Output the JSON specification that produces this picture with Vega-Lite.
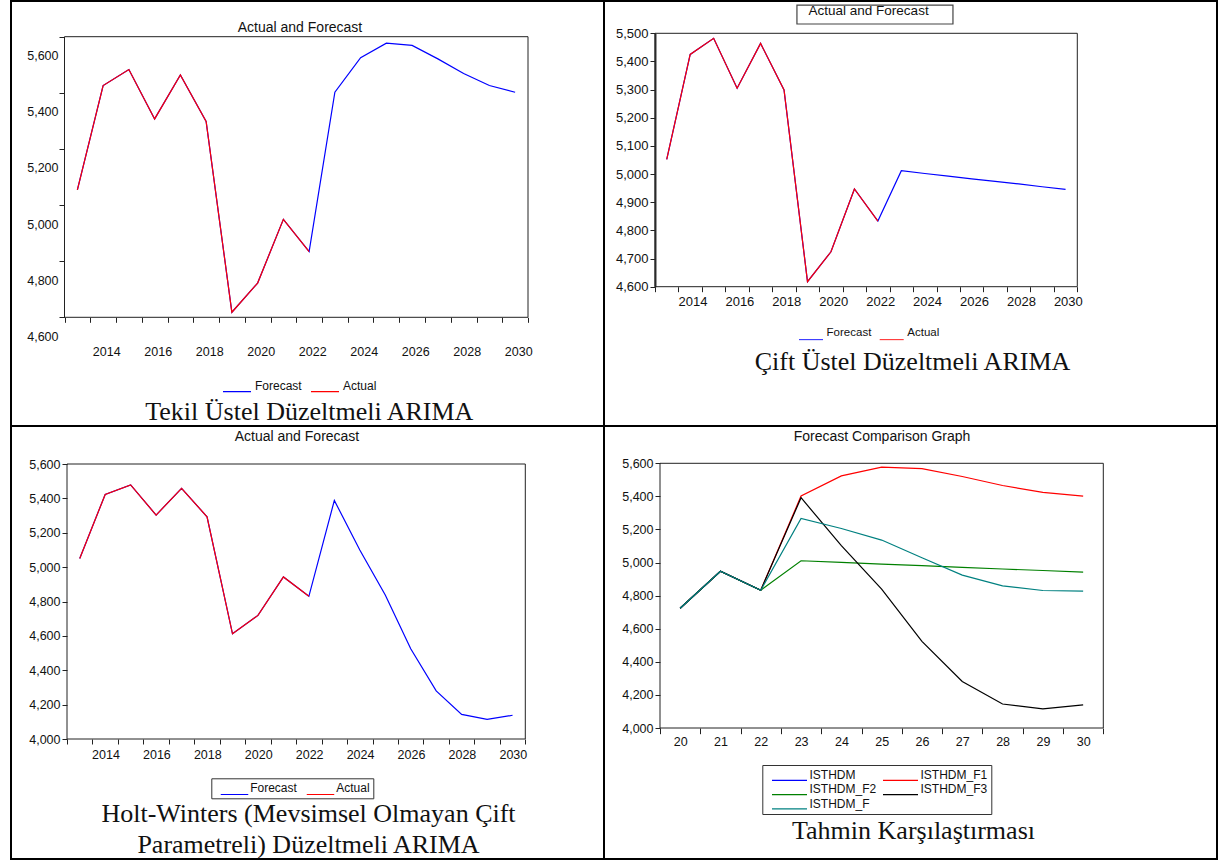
{
  "$schema": "https://vega.github.io/schema/vega-lite/v6.json",
  "background": "white",
  "padding": {"left": 10, "top": 0, "right": 0, "bottom": 0},
  "columns": 2,
  "spacing": 0,
  "bounds": "flush",
  "resolve": {"scale": {"color": "independent"}, "legend": {"color": "independent"}},
  "config": {
    "font": "Liberation Sans",
    "view": {"stroke": "#000", "strokeWidth": 2},
    "axis": {"grid": false, "domain": false, "tickColor": "#222", "labelColor": "#111", "labelFont": "Liberation Sans", "labelFontSize": 12.5, "labelFlush": false, "labelOverlap": false, "tickCount": 60},
    "legend": {"labelFont": "Liberation Sans", "labelColor": "#111", "title": null},
    "title": {"font": "Liberation Sans", "fontWeight": "normal", "color": "#111", "fontSize": 14}
  },
  "datasets": {
    "p1": [
      {"series": "Forecast", "year": 2013, "value": 5054},
      {"series": "Forecast", "year": 2014, "value": 5426},
      {"series": "Forecast", "year": 2015, "value": 5483},
      {"series": "Forecast", "year": 2016, "value": 5307},
      {"series": "Forecast", "year": 2017, "value": 5464},
      {"series": "Forecast", "year": 2018, "value": 5298},
      {"series": "Forecast", "year": 2019, "value": 4618},
      {"series": "Forecast", "year": 2020, "value": 4722},
      {"series": "Forecast", "year": 2021, "value": 4949},
      {"series": "Forecast", "year": 2022, "value": 4834},
      {"series": "Forecast", "year": 2023, "value": 5402},
      {"series": "Forecast", "year": 2024, "value": 5525},
      {"series": "Forecast", "year": 2025, "value": 5577},
      {"series": "Forecast", "year": 2026, "value": 5569},
      {"series": "Forecast", "year": 2027, "value": 5521},
      {"series": "Forecast", "year": 2028, "value": 5469},
      {"series": "Forecast", "year": 2029, "value": 5426},
      {"series": "Forecast", "year": 2030, "value": 5402},
      {"series": "Actual", "year": 2013, "value": 5054},
      {"series": "Actual", "year": 2014, "value": 5426},
      {"series": "Actual", "year": 2015, "value": 5483},
      {"series": "Actual", "year": 2016, "value": 5307},
      {"series": "Actual", "year": 2017, "value": 5464},
      {"series": "Actual", "year": 2018, "value": 5298},
      {"series": "Actual", "year": 2019, "value": 4618},
      {"series": "Actual", "year": 2020, "value": 4722},
      {"series": "Actual", "year": 2021, "value": 4949},
      {"series": "Actual", "year": 2022, "value": 4834}
    ],
    "p2": [
      {"series": "Forecast", "year": 2013, "value": 5052},
      {"series": "Forecast", "year": 2014, "value": 5425},
      {"series": "Forecast", "year": 2015, "value": 5482},
      {"series": "Forecast", "year": 2016, "value": 5305},
      {"series": "Forecast", "year": 2017, "value": 5464},
      {"series": "Forecast", "year": 2018, "value": 5299},
      {"series": "Forecast", "year": 2019, "value": 4618},
      {"series": "Forecast", "year": 2020, "value": 4724},
      {"series": "Forecast", "year": 2021, "value": 4947},
      {"series": "Forecast", "year": 2022, "value": 4833},
      {"series": "Forecast", "year": 2023, "value": 5012},
      {"series": "Forecast", "year": 2024, "value": 5002},
      {"series": "Forecast", "year": 2025, "value": 4993},
      {"series": "Forecast", "year": 2026, "value": 4983},
      {"series": "Forecast", "year": 2027, "value": 4974},
      {"series": "Forecast", "year": 2028, "value": 4965},
      {"series": "Forecast", "year": 2029, "value": 4955},
      {"series": "Forecast", "year": 2030, "value": 4946},
      {"series": "Actual", "year": 2013, "value": 5052},
      {"series": "Actual", "year": 2014, "value": 5425},
      {"series": "Actual", "year": 2015, "value": 5482},
      {"series": "Actual", "year": 2016, "value": 5305},
      {"series": "Actual", "year": 2017, "value": 5464},
      {"series": "Actual", "year": 2018, "value": 5299},
      {"series": "Actual", "year": 2019, "value": 4618},
      {"series": "Actual", "year": 2020, "value": 4724},
      {"series": "Actual", "year": 2021, "value": 4947},
      {"series": "Actual", "year": 2022, "value": 4833}
    ],
    "p3": [
      {"series": "Forecast", "year": 2013, "value": 5050},
      {"series": "Forecast", "year": 2014, "value": 5423},
      {"series": "Forecast", "year": 2015, "value": 5478},
      {"series": "Forecast", "year": 2016, "value": 5303},
      {"series": "Forecast", "year": 2017, "value": 5458},
      {"series": "Forecast", "year": 2018, "value": 5293},
      {"series": "Forecast", "year": 2019, "value": 4612},
      {"series": "Forecast", "year": 2020, "value": 4719},
      {"series": "Forecast", "year": 2021, "value": 4943},
      {"series": "Forecast", "year": 2022, "value": 4830},
      {"series": "Forecast", "year": 2023, "value": 5388},
      {"series": "Forecast", "year": 2024, "value": 5100},
      {"series": "Forecast", "year": 2025, "value": 4838},
      {"series": "Forecast", "year": 2026, "value": 4525},
      {"series": "Forecast", "year": 2027, "value": 4280},
      {"series": "Forecast", "year": 2028, "value": 4143},
      {"series": "Forecast", "year": 2029, "value": 4114},
      {"series": "Forecast", "year": 2030, "value": 4138},
      {"series": "Actual", "year": 2013, "value": 5050},
      {"series": "Actual", "year": 2014, "value": 5423},
      {"series": "Actual", "year": 2015, "value": 5478},
      {"series": "Actual", "year": 2016, "value": 5303},
      {"series": "Actual", "year": 2017, "value": 5458},
      {"series": "Actual", "year": 2018, "value": 5293},
      {"series": "Actual", "year": 2019, "value": 4612},
      {"series": "Actual", "year": 2020, "value": 4719},
      {"series": "Actual", "year": 2021, "value": 4943},
      {"series": "Actual", "year": 2022, "value": 4830}
    ],
    "p4": [
      {"series": "ISTHDM", "period": 20, "value": 4724},
      {"series": "ISTHDM", "period": 21, "value": 4947},
      {"series": "ISTHDM", "period": 22, "value": 4833},
      {"series": "ISTHDM_F1", "period": 20, "value": 4724},
      {"series": "ISTHDM_F1", "period": 21, "value": 4947},
      {"series": "ISTHDM_F1", "period": 22, "value": 4833},
      {"series": "ISTHDM_F1", "period": 23, "value": 5402},
      {"series": "ISTHDM_F1", "period": 24, "value": 5524},
      {"series": "ISTHDM_F1", "period": 25, "value": 5577},
      {"series": "ISTHDM_F1", "period": 26, "value": 5568},
      {"series": "ISTHDM_F1", "period": 27, "value": 5520},
      {"series": "ISTHDM_F1", "period": 28, "value": 5466},
      {"series": "ISTHDM_F1", "period": 29, "value": 5424},
      {"series": "ISTHDM_F1", "period": 30, "value": 5402},
      {"series": "ISTHDM_F2", "period": 20, "value": 4724},
      {"series": "ISTHDM_F2", "period": 21, "value": 4947},
      {"series": "ISTHDM_F2", "period": 22, "value": 4833},
      {"series": "ISTHDM_F2", "period": 23, "value": 5011},
      {"series": "ISTHDM_F2", "period": 24, "value": 5001},
      {"series": "ISTHDM_F2", "period": 25, "value": 4991},
      {"series": "ISTHDM_F2", "period": 26, "value": 4981},
      {"series": "ISTHDM_F2", "period": 27, "value": 4971},
      {"series": "ISTHDM_F2", "period": 28, "value": 4961},
      {"series": "ISTHDM_F2", "period": 29, "value": 4952},
      {"series": "ISTHDM_F2", "period": 30, "value": 4942},
      {"series": "ISTHDM_F3", "period": 20, "value": 4724},
      {"series": "ISTHDM_F3", "period": 21, "value": 4947},
      {"series": "ISTHDM_F3", "period": 22, "value": 4833},
      {"series": "ISTHDM_F3", "period": 23, "value": 5392},
      {"series": "ISTHDM_F3", "period": 24, "value": 5102},
      {"series": "ISTHDM_F3", "period": 25, "value": 4839},
      {"series": "ISTHDM_F3", "period": 26, "value": 4524},
      {"series": "ISTHDM_F3", "period": 27, "value": 4281},
      {"series": "ISTHDM_F3", "period": 28, "value": 4145},
      {"series": "ISTHDM_F3", "period": 29, "value": 4116},
      {"series": "ISTHDM_F3", "period": 30, "value": 4140},
      {"series": "ISTHDM_F", "period": 20, "value": 4724},
      {"series": "ISTHDM_F", "period": 21, "value": 4947},
      {"series": "ISTHDM_F", "period": 22, "value": 4833},
      {"series": "ISTHDM_F", "period": 23, "value": 5267},
      {"series": "ISTHDM_F", "period": 24, "value": 5206},
      {"series": "ISTHDM_F", "period": 25, "value": 5136},
      {"series": "ISTHDM_F", "period": 26, "value": 5029},
      {"series": "ISTHDM_F", "period": 27, "value": 4924},
      {"series": "ISTHDM_F", "period": 28, "value": 4859},
      {"series": "ISTHDM_F", "period": 29, "value": 4831},
      {"series": "ISTHDM_F", "period": 30, "value": 4827}
    ]
  },
  "concat": [
    {
      "width": 593, "height": 425,
      "data": {"name": "p1"},
      "title": {"text": "Actual and Forecast", "anchor": "middle", "frame": "group", "baseline": "alphabetic", "offset": -45, "dx": -7.5},
      "layer": [
        {
          "data": {"values": [{}]},
          "mark": {"type": "rect", "fill": "transparent", "stroke": "#222", "strokeWidth": 1},
          "encoding": {"x": {"datum": 2012.5}, "x2": {"datum": 2030.5}, "y": {"datum": 4600}, "y2": {"datum": 5600}}
        },
        {
          "mark": {"type": "line", "strokeWidth": 1.2},
          "encoding": {
            "x": {"field": "year", "type": "quantitative",
              "scale": {"domain": [2012.5, 2030.5], "range": [53.5, 517], "nice": false, "zero": false},
              "axis": {"orient": "bottom", "offset": -108.7, "tickCount": 60, "values": [2012.5, 2013.5, 2014.5, 2015.5, 2016.5, 2017.5, 2018.5, 2019.5, 2020.5, 2021.5, 2022.5, 2023.5, 2024.5, 2025.5, 2026.5, 2027.5, 2028.5, 2029.5, 2030.5],
                "labelExpr": "datum.value % 2 == 1.5 ? format(datum.value + 0.5, 'd') : ''", "labelOffset": 16, "tickSize": 5, "labelPadding": 28.7, "labelBaseline": "middle",
                "title": "Tekil Üstel Düzeltmeli ARIMA", "titleFont": "Liberation Serif", "titleFontSize": 26, "titleFontWeight": "normal", "titleColor": "#111", "titleX": 297.8, "titleY": 101.7, "titleAlign": "center", "titleBaseline": "alphabetic"}},
            "y": {"field": "value", "type": "quantitative",
              "scale": {"domain": [4600, 5600], "range": [316.3, 35.7], "nice": false, "zero": false},
              "axis": {"orient": "left", "offset": -53.5, "tickCount": 60, "values": [4600, 4800, 5000, 5200, 5400, 5600], "format": ",d", "labelOffset": 19, "labelPadding": 1, "tickSize": 5.5, "title": null}},
            "color": {"field": "series", "type": "nominal",
              "scale": {"domain": ["Forecast", "Actual"], "range": ["#0000ff", "#ff0000"]},
              "legend": {"orient": "none", "legendX": 211, "legendY": 378, "direction": "horizontal", "title": null, "symbolType": "M-1,0.4H1", "symbolSize": 784, "symbolStrokeWidth": 1.2, "labelFontSize": 12, "labelOffset": 3, "columnPadding": 8, "padding": 0, "clipHeight": 14, "labelBaseline": "middle"}}
          }
        }
      ]
    },
    {
      "width": 613, "height": 425,
      "data": {"name": "p2"},
      "title": {"text": "Actual and Forecast", "anchor": "middle", "frame": "group", "baseline": "alphabetic", "offset": -27, "dx": -41.9, "fontSize": 13.5},
      "layer": [
        {
          "data": {"values": [{}]},
          "mark": {"type": "rect", "fill": "transparent", "stroke": "#222", "strokeWidth": 1},
          "encoding": {"x": {"datum": 2012.5}, "x2": {"datum": 2030.5}, "y": {"datum": 4600}, "y2": {"datum": 5500}}
        },
        {
          "data": {"values": [{}]},
          "mark": {"type": "rect", "fill": "transparent", "stroke": "#444", "strokeWidth": 1.2},
          "encoding": {"x": {"datum": 2018.55}, "x2": {"datum": 2025.2}, "y": {"datum": 5533}, "y2": {"datum": 5600}}
        },
        {
          "mark": {"type": "line", "strokeWidth": 1.2},
          "encoding": {
            "x": {"field": "year", "type": "quantitative",
              "scale": {"domain": [2012.5, 2030.5], "range": [51, 473.3], "nice": false, "zero": false},
              "axis": {"orient": "bottom", "offset": -139.3, "tickCount": 60, "values": [2012.5, 2013.5, 2014.5, 2015.5, 2016.5, 2017.5, 2018.5, 2019.5, 2020.5, 2021.5, 2022.5, 2023.5, 2024.5, 2025.5, 2026.5, 2027.5, 2028.5, 2029.5, 2030.5],
                "labelExpr": "datum.value % 2 == 1.5 ? format(datum.value + 0.5, 'd') : ''", "labelOffset": 14, "tickSize": 5, "labelPadding": 10, "labelBaseline": "middle", "labelFontSize": 13,
                "title": "Çift Üstel Düzeltmeli ARIMA", "titleFont": "Liberation Serif", "titleFontSize": 26, "titleFontWeight": "normal", "titleColor": "#111", "titleX": 308, "titleY": 82.6, "titleAlign": "center", "titleBaseline": "alphabetic"}},
            "y": {"field": "value", "type": "quantitative",
              "scale": {"domain": [4600, 5500], "range": [285.7, 32.3], "nice": false, "zero": false},
              "axis": {"orient": "left", "offset": -51, "tickCount": 60, "values": [4600, 4700, 4800, 4900, 5000, 5100, 5200, 5300, 5400, 5500], "format": ",d", "labelPadding": 2, "tickSize": 5, "labelFontSize": 13, "title": null, "domain": true, "domainColor": "#333", "domainWidth": 2}},
            "color": {"field": "series", "type": "nominal",
              "scale": {"domain": ["Forecast", "Actual"], "range": ["#0000ff", "#ff0000"]},
              "legend": {"orient": "none", "legendX": 194, "legendY": 325.3, "direction": "horizontal", "title": null, "symbolType": "M-1,0.55H1", "symbolSize": 576, "symbolStrokeWidth": 1.2, "labelFontSize": 11.5, "labelOffset": 2.6, "columnPadding": 6.7, "padding": 0, "clipHeight": 14, "labelBaseline": "middle"}}
          }
        }
      ]
    },
    {
      "width": 593, "height": 433,
      "data": {"name": "p3"},
      "title": {"text": "Actual and Forecast", "anchor": "middle", "frame": "group", "baseline": "alphabetic", "offset": -28.5, "dx": -10.5},
      "layer": [
        {
          "data": {"values": [{}]},
          "mark": {"type": "rect", "fill": "transparent", "stroke": "#222", "strokeWidth": 1},
          "encoding": {"x": {"datum": 2012.5}, "x2": {"datum": 2030.5}, "y": {"datum": 4000}, "y2": {"datum": 5600}}
        },
        {
          "mark": {"type": "line", "strokeWidth": 1.2},
          "encoding": {
            "x": {"field": "year", "type": "quantitative",
              "scale": {"domain": [2012.5, 2030.5], "range": [56, 514.3], "nice": false, "zero": false},
              "axis": {"orient": "bottom", "offset": -120, "tickCount": 60, "values": [2012.5, 2013.5, 2014.5, 2015.5, 2016.5, 2017.5, 2018.5, 2019.5, 2020.5, 2021.5, 2022.5, 2023.5, 2024.5, 2025.5, 2026.5, 2027.5, 2028.5, 2029.5, 2030.5],
                "labelExpr": "datum.value % 2 == 1.5 ? format(datum.value + 0.5, 'd') : ''", "labelOffset": 13, "tickSize": 5, "labelPadding": 10, "labelBaseline": "middle",
                "title": ["Holt-Winters (Mevsimsel Olmayan Çift", "Parametreli) Düzeltmeli ARIMA"], "titleFont": "Liberation Serif", "titleFontSize": 26, "titleFontWeight": "normal", "titleColor": "#111", "titleX": 297, "titleY": 82.7, "titleAlign": "center", "titleBaseline": "alphabetic", "titleLineHeight": 30.6}},
            "y": {"field": "value", "type": "quantitative",
              "scale": {"domain": [4000, 5600], "range": [313, 38], "nice": false, "zero": false},
              "axis": {"orient": "left", "offset": -56, "tickCount": 60, "values": [4000, 4200, 4400, 4600, 4800, 5000, 5200, 5400, 5600], "format": ",d", "labelPadding": 2, "tickSize": 5, "title": null}},
            "color": {"field": "series", "type": "nominal",
              "scale": {"domain": ["Forecast", "Actual"], "range": ["#0000ff", "#ff0000"]},
              "legend": {"orient": "none", "legendX": 200.3, "legendY": 352.3, "direction": "horizontal", "title": null, "symbolType": "M-1,0.45H1", "symbolSize": 756, "symbolOffset": 5.7, "symbolStrokeWidth": 1.2, "labelFontSize": 12, "labelOffset": 1.2, "columnPadding": 3, "padding": 3, "clipHeight": 14, "strokeColor": "#333", "labelBaseline": "middle"}}
          }
        }
      ]
    },
    {
      "width": 613, "height": 433,
      "data": {"name": "p4"},
      "title": {"text": "Forecast Comparison Graph", "anchor": "middle", "frame": "group", "baseline": "alphabetic", "offset": -28.5, "dx": -28.5},
      "layer": [
        {
          "data": {"values": [{}]},
          "mark": {"type": "rect", "fill": "transparent", "stroke": "#222", "strokeWidth": 1},
          "encoding": {"x": {"datum": 19.5}, "x2": {"datum": 30.5}, "y": {"datum": 4000}, "y2": {"datum": 5600}}
        },
        {
          "mark": {"type": "line", "strokeWidth": 1.2},
          "encoding": {
            "x": {"field": "period", "type": "quantitative",
              "scale": {"domain": [19.5, 30.5], "range": [56, 499.3], "nice": false, "zero": false},
              "axis": {"orient": "bottom", "offset": -131, "tickCount": 60, "values": [19.5, 20.5, 21.5, 22.5, 23.5, 24.5, 25.5, 26.5, 27.5, 28.5, 29.5, 30.5],
                "labelExpr": "datum.value < 30 ? format(datum.value + 0.5, 'd') : ''", "labelOffset": 20.2, "tickSize": 5.7, "labelPadding": 8, "labelBaseline": "middle",
                "title": "Tahmin Karşılaştırması", "titleFont": "Liberation Serif", "titleFontSize": 26, "titleFontWeight": "normal", "titleColor": "#111", "titleX": 309, "titleY": 110, "titleAlign": "center", "titleBaseline": "alphabetic"}},
            "y": {"field": "value", "type": "quantitative",
              "scale": {"domain": [4000, 5600], "range": [302, 37.3], "nice": false, "zero": false},
              "axis": {"orient": "left", "offset": -56, "tickCount": 60, "values": [4000, 4200, 4400, 4600, 4800, 5000, 5200, 5400, 5600], "format": ",d", "labelPadding": 2, "tickSize": 5, "title": null}},
            "color": {"field": "series", "type": "nominal",
              "scale": {"domain": ["ISTHDM", "ISTHDM_F2", "ISTHDM_F", "ISTHDM_F1", "ISTHDM_F3"], "range": ["#0000ff", "#008000", "#008080", "#ff0000", "#000000"]},
              "legend": {"orient": "none", "legendX": 158.3, "legendY": 339, "columns": 2, "title": null, "symbolType": "M-1,0.3H1", "symbolSize": 1225, "symbolOffset": 5.5, "symbolStrokeWidth": 1.2, "labelFontSize": 12, "labelOffset": 1.5, "columnPadding": 0, "rowPadding": 0.2, "padding": 3.2, "clipHeight": 14, "strokeColor": "#333", "labelBaseline": "middle"}}
          }
        }
      ]
    }
  ]
}
